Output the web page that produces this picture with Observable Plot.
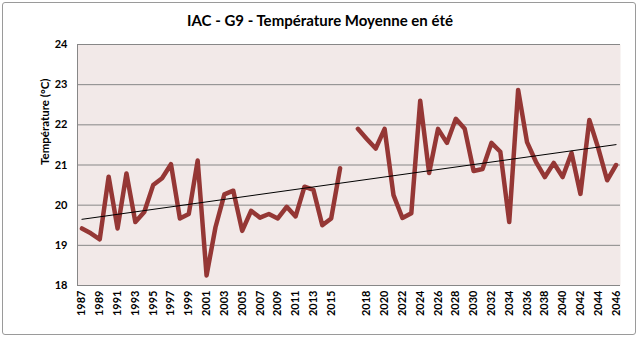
<!DOCTYPE html>
<html><head><meta charset="utf-8">
<script src="https://cdn.jsdelivr.net/npm/d3@7"></script>
<script src="https://cdn.jsdelivr.net/npm/@observablehq/plot@0.6"></script>
<style>
body{margin:0;background:#fff;}
#wrap{position:relative;width:640px;height:338px;font-family:Lato,"Open Sans",sans-serif;}
#frame{position:absolute;left:2px;top:2px;width:634px;height:333px;border:1px solid #9a9a9a;border-radius:3px;box-sizing:border-box;pointer-events:none;}
#title{position:absolute;left:0;top:10px;width:640px;text-align:center;font-weight:bold;font-size:15px;color:#000;line-height:20px;}
#chart{position:absolute;left:0;top:0;}
</style></head><body>
<div id="wrap"><div id="chart"></div><div id="title">IAC - G9 - Température Moyenne en été</div><div id="frame"></div></div>
<script>
const obsYears = [1987,1988,1989,1990,1991,1992,1993,1994,1995,1996,1997,1998,1999,2000,2001,2002,2003,2004,2005,2006,2007,2008,2009,2010,2011,2012,2013,2014,2015,2016];
const obsTemp = [19.42,19.30,19.15,20.71,19.42,20.79,19.58,19.83,20.50,20.67,21.02,19.67,19.78,21.11,18.25,19.45,20.27,20.36,19.36,19.86,19.69,19.78,19.67,19.96,19.72,20.46,20.38,19.50,19.67,20.92];
const projYears = [2017,2018,2019,2020,2021,2022,2023,2024,2025,2026,2027,2028,2029,2030,2031,2032,2033,2034,2035,2036,2037,2038,2039,2040,2041,2042,2043,2044,2045,2046];
const projTemp = [21.90,21.65,21.41,21.90,20.25,19.68,19.80,22.60,20.80,21.90,21.55,22.15,21.90,20.85,20.90,21.55,21.33,19.58,22.87,21.57,21.08,20.70,21.05,20.70,21.30,20.28,22.12,21.42,20.62,21.00];
const tickLabels = ["1987","1989","1991","1993","1995","1997","1999","2001","2003","2005","2007","2009","2011","2013","2015","2018","2020","2022","2024","2026","2028","2030","2032","2034","2036","2038","2040","2042","2044","2046"];
const yTicks = [18,19,20,21,22,23,24];

const rows = [];
obsYears.forEach((yr,k)=>rows.push({i: rows.length, label: String(yr), t: obsTemp[k]}));
rows.push({i: rows.length, label: "", t: null});
projYears.forEach((yr,k)=>rows.push({i: rows.length, label: String(yr), t: projTemp[k]}));
const tickIdx = rows.filter(r => tickLabels.includes(r.label)).map(r => r.i);

const chart = Plot.plot({
  width: 640, height: 338,
  marginLeft: 77, marginRight: 20, marginTop: 44, marginBottom: 53,
  style: {fontFamily: "Lato, 'Open Sans', sans-serif", background: "transparent", color: "#000"},
  x: {domain: [-0.5, rows.length - 0.5]},
  y: {domain: [18, 24]},
  marks: [
    Plot.frame({fill: "#f2e9e8", stroke: null}),
    Plot.gridY(yTicks, {stroke: "#878787", strokeOpacity: 1, strokeWidth: 1}),
    Plot.ruleX([-0.5], {stroke: "#878787", strokeWidth: 1}),
    Plot.axisY(yTicks, {tickSize: 0, tickPadding: 10, fontWeight: "bold", fontSize: 11, label: null}),
    Plot.axisX(tickIdx, {tickSize: 0, tickPadding: 5, tickRotate: -90, tickFormat: i => rows[i].label, fontWeight: "bold", fontSize: 11, label: null}),
    Plot.lineY(rows, {x: "i", y: "t", stroke: "#953735", strokeWidth: 4.5, strokeLinejoin: "round", strokeLinecap: "round"}),
    Plot.linearRegressionY(rows.filter(r => r.t != null), {x: "i", y: "t", stroke: "#000", strokeWidth: 1, ci: 0}),
    Plot.text(["Température (°C)"], {frameAnchor: "left", dx: -32, rotate: -90, fontWeight: "bold", fontSize: 11.5})
  ]
});
document.getElementById("chart").appendChild(chart);
</script></body></html>
